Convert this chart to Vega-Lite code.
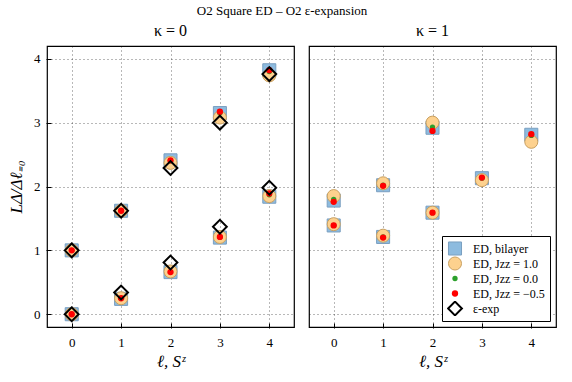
{
  "$schema": "https://vega.github.io/schema/vega-lite/v6.json",
  "title": {"text": "O2 Square ED – O2 ε-expansion", "fontSize": 13, "font": "Liberation Serif", "fontWeight": "normal", "offset": 5, "color": "black", "anchor": "middle"},
  "padding": {"left": 7, "top": 5, "right": 12, "bottom": 5},
  "data": {"values": [
    {"k": 0, "s": "ED, bilayer", "x": 0, "y": 0}, {"k": 0, "s": "ED, bilayer", "x": 0, "y": 1},
    {"k": 0, "s": "ED, bilayer", "x": 1, "y": 0.24}, {"k": 0, "s": "ED, bilayer", "x": 1, "y": 1.62},
    {"k": 0, "s": "ED, bilayer", "x": 2, "y": 0.66}, {"k": 0, "s": "ED, bilayer", "x": 2, "y": 2.41},
    {"k": 0, "s": "ED, bilayer", "x": 3, "y": 1.2}, {"k": 0, "s": "ED, bilayer", "x": 3, "y": 3.15},
    {"k": 0, "s": "ED, bilayer", "x": 4, "y": 1.84}, {"k": 0, "s": "ED, bilayer", "x": 4, "y": 3.82},
    {"k": 1, "s": "ED, bilayer", "x": 0, "y": 1.39}, {"k": 1, "s": "ED, bilayer", "x": 0, "y": 1.78},
    {"k": 1, "s": "ED, bilayer", "x": 1, "y": 1.21}, {"k": 1, "s": "ED, bilayer", "x": 1, "y": 2.02},
    {"k": 1, "s": "ED, bilayer", "x": 2, "y": 1.59}, {"k": 1, "s": "ED, bilayer", "x": 2, "y": 2.92},
    {"k": 1, "s": "ED, bilayer", "x": 3, "y": 2.13}, {"k": 1, "s": "ED, bilayer", "x": 4, "y": 2.81},

    {"k": 0, "s": "ED, Jzz = 1.0", "x": 0, "y": 0}, {"k": 0, "s": "ED, Jzz = 1.0", "x": 0, "y": 1},
    {"k": 0, "s": "ED, Jzz = 1.0", "x": 1, "y": 0.25}, {"k": 0, "s": "ED, Jzz = 1.0", "x": 1, "y": 1.62},
    {"k": 0, "s": "ED, Jzz = 1.0", "x": 2, "y": 0.67}, {"k": 0, "s": "ED, Jzz = 1.0", "x": 2, "y": 2.37},
    {"k": 0, "s": "ED, Jzz = 1.0", "x": 3, "y": 1.21}, {"k": 0, "s": "ED, Jzz = 1.0", "x": 3, "y": 3.08},
    {"k": 0, "s": "ED, Jzz = 1.0", "x": 4, "y": 1.85}, {"k": 0, "s": "ED, Jzz = 1.0", "x": 4, "y": 3.74},
    {"k": 1, "s": "ED, Jzz = 1.0", "x": 0, "y": 1.41}, {"k": 1, "s": "ED, Jzz = 1.0", "x": 0, "y": 1.85},
    {"k": 1, "s": "ED, Jzz = 1.0", "x": 1, "y": 1.23}, {"k": 1, "s": "ED, Jzz = 1.0", "x": 1, "y": 2.05},
    {"k": 1, "s": "ED, Jzz = 1.0", "x": 2, "y": 1.59}, {"k": 1, "s": "ED, Jzz = 1.0", "x": 2, "y": 3.0},
    {"k": 1, "s": "ED, Jzz = 1.0", "x": 3, "y": 2.1}, {"k": 1, "s": "ED, Jzz = 1.0", "x": 4, "y": 2.7},

    {"k": 0, "s": "ED, Jzz = 0.0", "x": 0, "y": 0}, {"k": 0, "s": "ED, Jzz = 0.0", "x": 0, "y": 1},
    {"k": 0, "s": "ED, Jzz = 0.0", "x": 1, "y": 0.25}, {"k": 0, "s": "ED, Jzz = 0.0", "x": 1, "y": 1.62},
    {"k": 0, "s": "ED, Jzz = 0.0", "x": 2, "y": 0.66}, {"k": 0, "s": "ED, Jzz = 0.0", "x": 2, "y": 2.4},
    {"k": 0, "s": "ED, Jzz = 0.0", "x": 3, "y": 1.21}, {"k": 0, "s": "ED, Jzz = 0.0", "x": 3, "y": 3.15},
    {"k": 0, "s": "ED, Jzz = 0.0", "x": 4, "y": 1.87}, {"k": 0, "s": "ED, Jzz = 0.0", "x": 4, "y": 3.8},
    {"k": 1, "s": "ED, Jzz = 0.0", "x": 0, "y": 1.39}, {"k": 1, "s": "ED, Jzz = 0.0", "x": 0, "y": 1.8},
    {"k": 1, "s": "ED, Jzz = 0.0", "x": 1, "y": 1.21}, {"k": 1, "s": "ED, Jzz = 0.0", "x": 1, "y": 2.02},
    {"k": 1, "s": "ED, Jzz = 0.0", "x": 2, "y": 1.59}, {"k": 1, "s": "ED, Jzz = 0.0", "x": 2, "y": 2.93},
    {"k": 1, "s": "ED, Jzz = 0.0", "x": 3, "y": 2.13}, {"k": 1, "s": "ED, Jzz = 0.0", "x": 4, "y": 2.8},

    {"k": 0, "s": "ED, Jzz = −0.5", "x": 0, "y": 0}, {"k": 0, "s": "ED, Jzz = −0.5", "x": 0, "y": 1},
    {"k": 0, "s": "ED, Jzz = −0.5", "x": 1, "y": 0.25}, {"k": 0, "s": "ED, Jzz = −0.5", "x": 1, "y": 1.62},
    {"k": 0, "s": "ED, Jzz = −0.5", "x": 2, "y": 0.66}, {"k": 0, "s": "ED, Jzz = −0.5", "x": 2, "y": 2.41},
    {"k": 0, "s": "ED, Jzz = −0.5", "x": 3, "y": 1.21}, {"k": 0, "s": "ED, Jzz = −0.5", "x": 3, "y": 3.17},
    {"k": 0, "s": "ED, Jzz = −0.5", "x": 4, "y": 1.89}, {"k": 0, "s": "ED, Jzz = −0.5", "x": 4, "y": 3.82},
    {"k": 1, "s": "ED, Jzz = −0.5", "x": 0, "y": 1.39}, {"k": 1, "s": "ED, Jzz = −0.5", "x": 0, "y": 1.76},
    {"k": 1, "s": "ED, Jzz = −0.5", "x": 1, "y": 1.2}, {"k": 1, "s": "ED, Jzz = −0.5", "x": 1, "y": 2.01},
    {"k": 1, "s": "ED, Jzz = −0.5", "x": 2, "y": 1.59}, {"k": 1, "s": "ED, Jzz = −0.5", "x": 2, "y": 2.87},
    {"k": 1, "s": "ED, Jzz = −0.5", "x": 3, "y": 2.14}, {"k": 1, "s": "ED, Jzz = −0.5", "x": 4, "y": 2.82},

    {"k": 0, "s": "ε-exp", "x": 0, "y": 0}, {"k": 0, "s": "ε-exp", "x": 0, "y": 1},
    {"k": 0, "s": "ε-exp", "x": 1, "y": 0.34}, {"k": 0, "s": "ε-exp", "x": 1, "y": 1.62},
    {"k": 0, "s": "ε-exp", "x": 2, "y": 0.81}, {"k": 0, "s": "ε-exp", "x": 2, "y": 2.29},
    {"k": 0, "s": "ε-exp", "x": 3, "y": 1.37}, {"k": 0, "s": "ε-exp", "x": 3, "y": 3.0},
    {"k": 0, "s": "ε-exp", "x": 4, "y": 1.98}, {"k": 0, "s": "ε-exp", "x": 4, "y": 3.76}
  ]},
  "facet": {"column": {"field": "k", "type": "ordinal", "header": {"title": null, "labelExpr": "'κ = ' + datum.value", "labelFontSize": 16, "labelFont": "Liberation Serif", "labelPadding": 6, "labelColor": "black"}}},
  "spacing": 13,
  "spec": {
    "width": 247,
    "height": 281,
    "mark": {"type": "point", "filled": true, "opacity": 1},
    "encoding": {
      "x": {"field": "x", "type": "quantitative", "scale": {"domain": [-0.5, 4.5], "nice": false, "zero": false}, "axis": {"values": [0, 1, 2, 3, 4], "title": "ℓ, Sᶻ", "format": "d"}},
      "y": {"field": "y", "type": "quantitative", "scale": {"domain": [-0.2, 4.2], "nice": false, "zero": false}, "axis": {"values": [0, 1, 2, 3, 4], "title": "LΔ/Δℓ₌₀", "format": "d"}},
      "shape": {"field": "s", "type": "nominal", "scale": {"domain": ["ED, bilayer", "ED, Jzz = 1.0", "ED, Jzz = 0.0", "ED, Jzz = −0.5", "ε-exp"], "range": ["square", "circle", "circle", "circle", "diamond"]}, "legend": {"title": null, "orient": "none", "legendX": 395, "legendY": 190}},
      "fill": {"field": "s", "type": "nominal", "scale": {"domain": ["ED, bilayer", "ED, Jzz = 1.0", "ED, Jzz = 0.0", "ED, Jzz = −0.5", "ε-exp"], "range": ["#8dbbdf", "#fdd18e", "#2ca02c", "#ff0000", "transparent"]}, "legend": {"title": null, "orient": "none", "legendX": 395, "legendY": 190}},
      "stroke": {"field": "s", "type": "nominal", "scale": {"domain": ["ED, bilayer", "ED, Jzz = 1.0", "ED, Jzz = 0.0", "ED, Jzz = −0.5", "ε-exp"], "range": ["#7a9fc0", "#c9a060", "#2ca02c", "#ff0000", "#000000"]}, "legend": {"title": null, "orient": "none", "legendX": 395, "legendY": 190}},
      "size": {"field": "s", "type": "ordinal", "scale": {"type": "ordinal", "domain": ["ED, bilayer", "ED, Jzz = 1.0", "ED, Jzz = 0.0", "ED, Jzz = −0.5", "ε-exp"], "range": [170, 170, 28, 40, 190]}, "legend": {"title": null, "orient": "none", "legendX": 395, "legendY": 190}},
      "strokeWidth": {"field": "s", "type": "ordinal", "scale": {"type": "ordinal", "domain": ["ED, bilayer", "ED, Jzz = 1.0", "ED, Jzz = 0.0", "ED, Jzz = −0.5", "ε-exp"], "range": [1, 1, 0, 0, 2]}, "legend": {"title": null, "orient": "none", "legendX": 395, "legendY": 190}}
    }
  },
  "config": {
    "font": "Liberation Serif",
    "view": {"stroke": "black", "strokeWidth": 1.2},
    "axis": {
      "grid": true, "gridColor": "#000000", "gridDash": [1, 3], "gridOpacity": 0.7, "gridWidth": 0.8,
      "domain": false, "tickColor": "black", "tickSize": -5,
      "labelFont": "Liberation Serif", "labelFontSize": 13, "labelColor": "black",
      "titleFont": "Liberation Serif", "titleFontSize": 17, "titleFontWeight": "normal", "titleColor": "black", "titleFontStyle": "italic"
    },
    "axisY": {"labelPadding": 11, "titlePadding": 8},
    "axisX": {"labelPadding": 13, "titlePadding": 4},
    "legend": {
      "strokeColor": "black", "fillColor": "white", "padding": 5, "clipHeight": 15,
      "labelFont": "Liberation Serif", "labelFontSize": 12, "labelColor": "black", "rowPadding": 0, "symbolOpacity": 1, "labelOffset": 10
    }
  }
}
